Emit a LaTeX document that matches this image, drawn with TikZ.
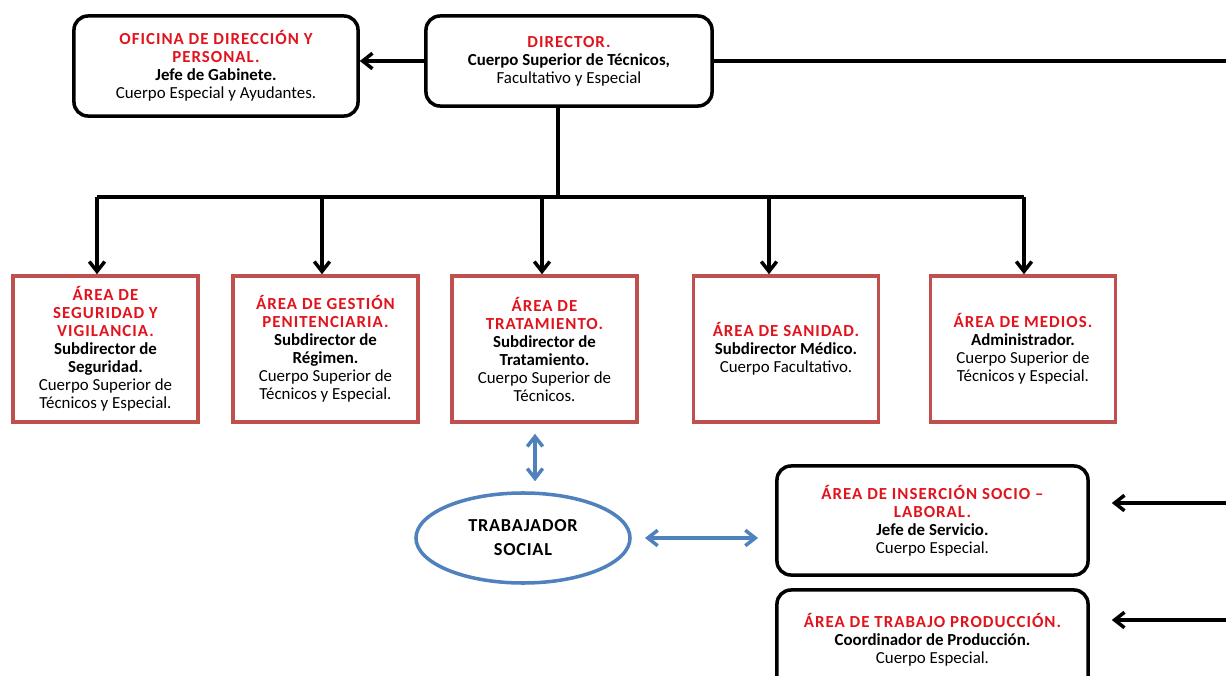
\documentclass[tikz,border=0pt]{standalone}
\usepackage{fontspec}
\setmainfont{Carlito}
\usetikzlibrary{shapes.geometric,arrows.meta}
\definecolor{titred}{RGB}{225,20,30}
\definecolor{boxred}{RGB}{192,80,77}
\definecolor{linkblue}{RGB}{79,129,189}
\tikzset{>={Straight Barb[length=7pt,width=11pt]}}
\newcommand{\tit}[1]{{\color{titred}\bfseries\addfontfeature{LetterSpace=6}#1}}
\newcommand{\jefe}[1]{{\bfseries #1}}

\begin{document}
\begin{tikzpicture}[x=0.025cm,y=-0.025cm,line width=2.5pt,
    blackbox/.style={draw,rounded corners=.35cm,align=center,fill=white},
    redbox/.style={draw=boxred,align=center,minimum width=4.625cm,minimum height=3.65cm},
    bluelink/.style={draw=linkblue,<->,line width=2.5pt},
    every node/.style={font=\fontsize{12}{12.8}\selectfont}]
    \clip (0,0) rectangle (1226,676);
    \fill[white] (0,0) rectangle (1226,676);

    \node[blackbox,minimum width=7.1cm,minimum height=2.5cm] (ofi) at (216,66)
        {\tit{OFICINA DE DIRECCIÓN Y}\\ \tit{PERSONAL.}\\ \jefe{Jefe de Gabinete.}\\ Cuerpo Especial y Ayudantes.};
    \node[blackbox,minimum width=7.15cm,minimum height=2.25cm] (dir) at (569,61)
        {\tit{DIRECTOR.}\\ \jefe{Cuerpo Superior de Técnicos,}\\ Facultativo y Especial};

    \node[redbox] (seg) at (105.5,349)
        {\tit{ÁREA DE}\\ \tit{SEGURIDAD Y}\\ \tit{VIGILANCIA.}\\ \jefe{Subdirector de}\\ \jefe{Seguridad.}\\ Cuerpo Superior de\\ Técnicos y Especial.};
    \node[redbox] (ges) at (325.5,349)
        {\tit{ÁREA DE GESTIÓN}\\ \tit{PENITENCIARIA.}\\ \jefe{Subdirector de}\\ \jefe{Régimen.}\\ Cuerpo Superior de\\ Técnicos y Especial.};
    \node[redbox] (trat) at (544.5,349)
        {\tit{ÁREA DE}\\ \tit{TRATAMIENTO.}\\ \jefe{Subdirector de}\\ \jefe{Tratamiento.}\\ Cuerpo Superior de\\ Técnicos.};
    \node[redbox] (san) at (786,349)
        {\tit{ÁREA DE SANIDAD.}\\ \jefe{Subdirector Médico.}\\ Cuerpo Facultativo.};
    \node[redbox] (med) at (1023,349)
        {\tit{ÁREA DE MEDIOS.}\\ \jefe{Administrador.}\\ Cuerpo Superior de\\ Técnicos y Especial.};

    \node[draw=linkblue,ellipse,align=center,minimum width=5.35cm,minimum height=2.25cm,
        font=\fontsize{13}{17}\selectfont\bfseries\addfontfeature{LetterSpace=4}] (soc) at (523,538)
        {TRABAJADOR\\ SOCIAL};
    \node[blackbox,minimum width=7.775cm,minimum height=2.725cm] (ins) at (932.5,520.5)
        {\tit{ÁREA DE INSERCIÓN SOCIO --}\\ \tit{LABORAL.}\\ \jefe{Jefe de Servicio.}\\ Cuerpo Especial.};
    \node[blackbox,minimum width=7.775cm,minimum height=2.5cm] (trab) at (932.5,640)
        {\tit{ÁREA DE TRABAJO PRODUCCIÓN.}\\ \jefe{Coordinador de Producción.}\\ Cuerpo Especial.};

    \coordinate (rtop) at (1226,61);
    \coordinate (rins) at (1226,503);
    \coordinate (rtrab) at (1226,620);
    \coordinate (bus) at (558,197);
    \coordinate (b1) at (97,197);
    \coordinate (b2) at (322,197);
    \coordinate (b3) at (542,197);
    \coordinate (b4) at (769,197);
    \coordinate (b5) at (1024,197);

    \draw[->] (dir.west) -- (dir.west -| ofi.east);
    \draw (dir.east) -- (rtop);
    \draw (dir.south -| bus) -- (bus);
    \draw (b1) -- (b5);
    \draw[->] (b1) -- (b1 |- seg.north);
    \draw[->] (b2) -- (b2 |- ges.north);
    \draw[->] (b3) -- (b3 |- trat.north);
    \draw[->] (b4) -- (b4 |- san.north);
    \draw[->] (b5) -- (b5 |- med.north);

    \draw[bluelink,shorten <=.25cm,shorten >=.25cm] (trat.south -| 535,0) -- (soc.north -| 535,0);
    \draw[bluelink,shorten <=.33cm,shorten >=.43cm] (soc.east) -- (soc.east -| ins.west);

    \draw[->,shorten >=.55cm] (rins) -- (rins -| ins.east);
    \draw[->,shorten >=.55cm] (rtrab) -- (rtrab -| trab.east);
\end{tikzpicture}
\end{document}
